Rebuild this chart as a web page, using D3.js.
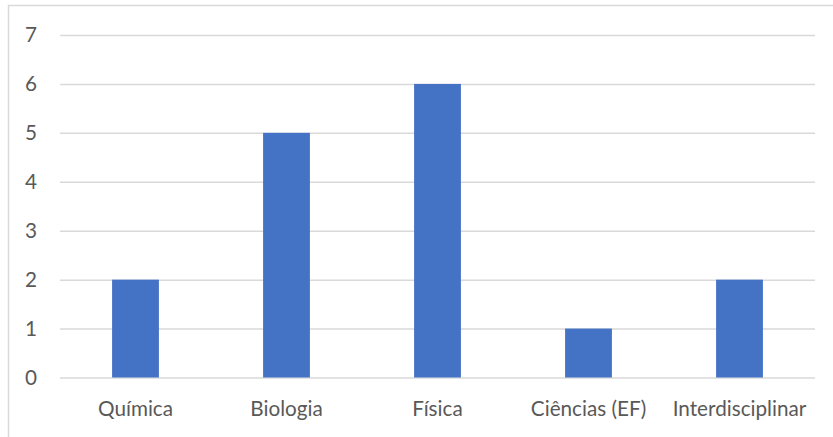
<!DOCTYPE html>
<html>
<head>
<meta charset="utf-8">
<script src="https://cdn.jsdelivr.net/npm/d3@7"></script>
<style>
  html, body { margin: 0; padding: 0; background: #fff; }
  svg { display: block; }
  text { font-family: Lato, "Open Sans", sans-serif; fill: #595959; }
</style>
</head>
<body>
<svg id="chart" width="833" height="437"></svg>
<script>
// Number of entries per area
const categories = ["Química", "Biologia", "Física", "Ciências (EF)", "Interdisciplinar"];
const values = [2, 5, 6, 1, 2];
const yTicks = [0, 1, 2, 3, 4, 5, 6, 7];

const width = 833, height = 437;
const plot = { left: 60, right: 815, top: 35, bottom: 377.5 };
const fontSize = 20.7;

const svg = d3.select("#chart");

// Outer chart frame
svg.append("rect")
  .attr("x", 8.5).attr("y", 5.5)
  .attr("width", 840).attr("height", 450)
  .attr("fill", "none")
  .attr("stroke", "#d9d9d9")
  .attr("stroke-width", 1.5);

const x = d3.scaleBand()
  .domain(categories)
  .range([plot.left, plot.right])
  .paddingInner(0.69)
  .paddingOuter(0.345);

const y = d3.scaleLinear()
  .domain([0, 7])
  .range([plot.bottom, plot.top]);

// Horizontal gridlines and value labels
const yAxis = d3.axisLeft(y)
  .tickValues(yTicks)
  .tickFormat(d3.format("d"))
  .tickSize(-(plot.right - plot.left))
  .tickPadding(23);

const gy = svg.append("g")
  .attr("transform", `translate(${plot.left},0)`)
  .call(yAxis);
gy.select(".domain").remove();
gy.selectAll(".tick line")
  .attr("stroke", "#d9d9d9")
  .attr("stroke-width", 1.5);
gy.selectAll(".tick text")
  .attr("font-size", fontSize)
  .attr("fill", "#595959")
  .style("font-family", "Lato, 'Open Sans', sans-serif");

// Bars
svg.append("g")
  .selectAll("rect")
  .data(values)
  .join("rect")
  .attr("x", (d, i) => x(categories[i]))
  .attr("y", d => y(d))
  .attr("width", x.bandwidth())
  .attr("height", d => y(0) - y(d))
  .attr("fill", "#4472c4");

// Category labels
const xAxis = d3.axisBottom(x).tickSize(0).tickPadding(24);
const gx = svg.append("g")
  .attr("transform", `translate(0,${plot.bottom})`)
  .call(xAxis);
gx.select(".domain").remove();
gx.selectAll(".tick text")
  .attr("font-size", fontSize)
  .attr("fill", "#595959")
  .style("font-family", "Lato, 'Open Sans', sans-serif");
</script>
</body>
</html>
